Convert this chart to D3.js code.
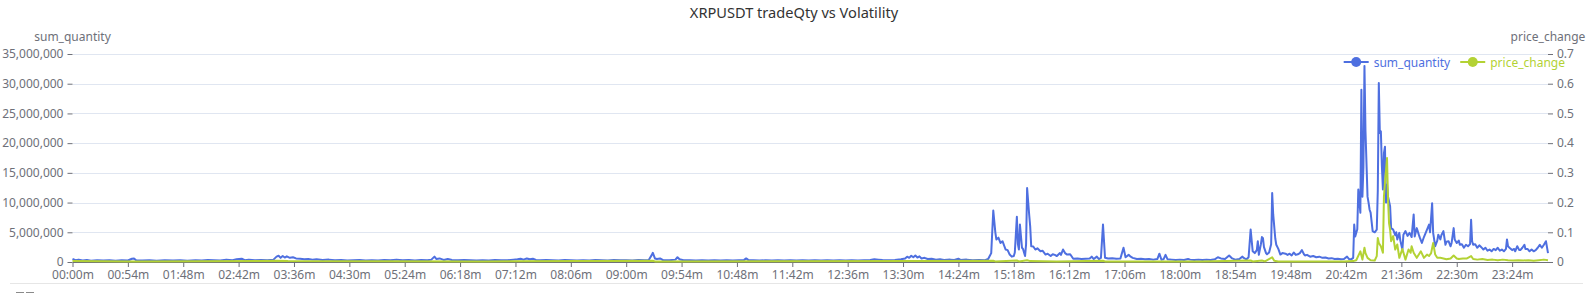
<!DOCTYPE html>
<html>
<head>
<meta charset="utf-8">
<script src="https://cdn.jsdelivr.net/npm/d3@7"></script>
<style>
	body { margin: 0; background: #fff; }
	svg { display: block; font-family: "Noto Sans", sans-serif; }
</style>
</head>
<body>
<div class="chart"></div>
<script>
// time labels on the x axis (minute of day)
const timeLabels = ["00:00m", "00:54m", "01:48m", "02:42m", "03:36m", "04:30m", "05:24m", "06:18m",
	"07:12m", "08:06m", "09:00m", "09:54m", "10:48m", "11:42m", "12:36m", "13:30m", "14:24m", "15:18m",
	"16:12m", "17:06m", "18:00m", "18:54m", "19:48m", "20:42m", "21:36m", "22:30m", "23:24m"];

const qtyTicks = [0, 5000000, 10000000, 15000000, 20000000, 25000000, 30000000, 35000000];
const changeTicks = [0, 0.1, 0.2, 0.3, 0.4, 0.5, 0.6, 0.7];

// sum_quantity, [minute, millions]
const sumQuantity = [
	[0, 0.5], [3, 0.3], [6, 0.4], [10, 0.25], [14, 0.35], [18, 0.2], [24, 0.3], [30, 0.25], [36, 0.3], [42, 0.2],
	[48, 0.3], [54, 0.25], [58, 0.55], [60, 0.6], [62, 0.3], [68, 0.25], [75, 0.3], [82, 0.2], [90, 0.3], [98, 0.25],
	[105, 0.3], [112, 0.2], [120, 0.3], [126, 0.25], [132, 0.35], [138, 0.3], [144, 0.25], [150, 0.4], [156, 0.3],
	[160, 0.45], [165, 0.55], [168, 0.3], [172, 0.4], [178, 0.3], [184, 0.35], [190, 0.3], [196, 0.4], [199, 0.9],
	[201, 1.05], [203, 0.7], [205, 1.0], [207, 0.75], [209, 0.95], [212, 0.7], [215, 0.8], [218, 0.6], [222, 0.55],
	[226, 0.45], [230, 0.5], [234, 0.4], [238, 0.45], [244, 0.35], [250, 0.4], [256, 0.3], [262, 0.35], [268, 0.25],
	[274, 0.3], [280, 0.35], [286, 0.25], [292, 0.3], [298, 0.25], [304, 0.35], [310, 0.3], [316, 0.4], [322, 0.3],
	[328, 0.35], [334, 0.25], [340, 0.35], [346, 0.3], [350, 0.4], [353, 0.9], [355, 0.5], [358, 0.6], [362, 0.35],
	[366, 0.5], [370, 0.35], [376, 0.3], [382, 0.35], [388, 0.3], [394, 0.25], [400, 0.3], [406, 0.25], [412, 0.35],
	[418, 0.3], [424, 0.3], [430, 0.4], [434, 0.45], [437, 0.55], [440, 0.4], [443, 0.6], [446, 0.45], [449, 0.55],
	[452, 0.35], [456, 0.3], [462, 0.35], [468, 0.3], [474, 0.25], [480, 0.35], [486, 0.3], [492, 0.25], [498, 0.3],
	[504, 0.25], [510, 0.35], [516, 0.3], [522, 0.25], [528, 0.35], [534, 0.3], [540, 0.3], [546, 0.25], [552, 0.35],
	[558, 0.3], [562, 0.35], [565, 1.2], [566, 1.55], [568, 0.6], [570, 0.5], [573, 0.6], [576, 0.3], [582, 0.3],
	[588, 0.4], [590, 0.8], [592, 0.45], [596, 0.3], [602, 0.3], [608, 0.25], [614, 0.3], [620, 0.25], [626, 0.3],
	[632, 0.25], [638, 0.3], [644, 0.25], [650, 0.3], [655, 0.35], [657, 0.6], [659, 0.35], [664, 0.3], [670, 0.25],
	[676, 0.3], [682, 0.25], [688, 0.3], [694, 0.25], [700, 0.3], [706, 0.25], [712, 0.3], [718, 0.25], [724, 0.3],
	[730, 0.25], [736, 0.3], [742, 0.25], [748, 0.3], [754, 0.25], [760, 0.3], [766, 0.25], [772, 0.3], [778, 0.35],
	[782, 0.45], [786, 0.4], [790, 0.35], [796, 0.3], [802, 0.35], [808, 0.45], [812, 0.6], [814, 0.9], [816, 0.7],
	[818, 1.05], [820, 0.8], [822, 1.1], [824, 0.75], [826, 0.95], [828, 0.6], [831, 0.7], [834, 0.5], [838, 0.55],
	[842, 0.4], [846, 0.45], [850, 0.35], [856, 0.4], [860, 0.35], [864, 0.55], [866, 0.35], [872, 0.4], [878, 0.3],
	[884, 0.35], [890, 0.3], [893, 0.5],
	[896, 1.5], [898, 8.65], [900, 5.0], [901, 3.8], [903, 4.1], [905, 3.2], [907, 3.5], [910, 2.1], [912, 2.0],
	[914, 1.25], [916, 0.9], [918, 1.0], [919, 1.6], [921, 7.6], [922, 3.0], [923, 2.1], [924, 6.3], [926, 2.4],
	[927, 2.2], [929, 1.0], [930, 3.0], [931, 12.45], [933, 8.0], [934, 6.0], [935, 2.65], [937, 2.6], [939, 2.1],
	[941, 2.3], [944, 1.8], [946, 1.9], [949, 1.25], [951, 1.4], [954, 1.0], [956, 1.3], [958, 1.2], [960, 1.0],
	[963, 1.5], [964, 1.2], [966, 2.1], [968, 1.5], [970, 1.25], [973, 1.3], [976, 0.55], [980, 0.6], [984, 0.5],
	[988, 0.55], [992, 0.6], [994, 0.9], [996, 0.5], [999, 0.9], [1001, 0.5], [1003, 0.7], [1005, 6.3], [1007, 0.7],
	[1010, 0.6], [1014, 0.65], [1018, 0.55], [1022, 0.6], [1025, 2.4], [1027, 0.8], [1030, 1.2], [1032, 0.9],
	[1034, 0.7], [1038, 0.5], [1042, 0.55], [1046, 0.45], [1050, 0.5], [1054, 0.4], [1058, 0.5], [1060, 1.4],
	[1062, 0.4], [1064, 0.45], [1066, 1.2], [1068, 0.45], [1072, 0.4], [1076, 0.35], [1080, 0.4], [1084, 0.35],
	[1088, 0.5], [1090, 0.4], [1094, 0.35], [1098, 0.4], [1102, 0.35], [1106, 0.4], [1110, 0.35], [1114, 0.45],
	[1117, 0.8], [1120, 0.6], [1124, 0.5], [1128, 1.1], [1131, 0.6], [1134, 0.4], [1138, 0.5], [1141, 0.9],
	[1143, 0.6], [1145, 0.45], [1147, 0.8], [1149, 5.45], [1151, 1.8], [1153, 1.5], [1155, 2.0], [1156, 3.5],
	[1157, 1.2], [1159, 3.0], [1160, 4.2], [1161, 4.0], [1162, 2.5], [1164, 1.5], [1165, 1.3], [1167, 1.6],
	[1169, 3.0], [1170, 11.6], [1171, 8.0], [1173, 4.0], [1174, 2.9], [1176, 2.2], [1178, 1.25], [1180, 1.5],
	[1183, 1.4], [1185, 1.2], [1187, 1.4], [1189, 1.1], [1191, 1.6], [1193, 1.2], [1195, 1.3], [1197, 1.5],
	[1199, 2.0], [1201, 1.3], [1202, 1.1], [1204, 1.2], [1207, 0.9], [1210, 1.0], [1213, 0.8], [1216, 0.9],
	[1219, 0.7], [1222, 0.75], [1225, 0.6], [1228, 0.65], [1231, 0.5], [1234, 0.55], [1237, 0.45], [1240, 0.5],
	[1243, 0.9], [1245, 0.5], [1247, 0.45], [1249, 0.7],
	[1250, 6.3], [1251, 4.3], [1253, 5.5], [1254, 12.2], [1256, 8.3], [1257, 29.0], [1258, 11.0], [1259, 16.0],
	[1260, 33.0], [1261, 22.0], [1263, 11.0], [1264, 10.0], [1265, 8.8], [1266, 8.3], [1268, 5.2], [1270, 5.0],
	[1272, 5.45], [1273, 12.0], [1274, 30.1], [1275, 21.7], [1276, 22.0], [1277, 16.1], [1278, 12.2], [1279, 18.3],
	[1280, 19.4], [1281, 10.0], [1282, 13.0], [1283, 11.0], [1285, 9.4], [1286, 5.7], [1288, 5.45], [1290, 4.5],
	[1291, 5.0], [1292, 3.8], [1294, 4.9], [1295, 3.6], [1297, 2.1], [1298, 4.6], [1300, 5.2], [1302, 4.4],
	[1304, 4.9], [1306, 4.2], [1308, 8.0], [1309, 4.3], [1311, 5.7], [1313, 4.6], [1314, 4.1], [1316, 3.2],
	[1318, 4.2], [1321, 5.45], [1323, 6.3], [1324, 5.0], [1326, 9.9], [1327, 4.9], [1329, 2.65], [1331, 3.6],
	[1332, 4.6], [1334, 3.8], [1335, 4.5], [1337, 5.2], [1339, 2.9], [1340, 3.4], [1342, 3.5], [1344, 2.65],
	[1345, 3.2], [1347, 5.7], [1348, 3.8], [1350, 3.2], [1352, 3.6], [1353, 2.9], [1355, 3.0], [1357, 2.4],
	[1359, 2.9], [1361, 2.65], [1363, 3.0], [1364, 7.1], [1365, 3.5], [1366, 2.9], [1368, 3.0], [1370, 2.4],
	[1372, 2.8], [1373, 2.65], [1375, 2.3], [1376, 2.1], [1378, 2.4], [1380, 1.9], [1382, 2.1], [1384, 1.8],
	[1386, 2.2], [1388, 2.0], [1390, 2.4], [1392, 1.9], [1394, 2.1], [1396, 1.8], [1398, 2.2], [1399, 3.8],
	[1400, 2.65], [1402, 2.3], [1404, 2.0], [1406, 2.2], [1407, 1.8], [1409, 2.65], [1411, 2.0], [1412, 2.0],
	[1414, 2.4], [1416, 2.9], [1417, 2.2], [1419, 2.2], [1421, 1.8], [1423, 2.1], [1425, 1.8], [1427, 2.0],
	[1429, 2.4], [1431, 2.9], [1433, 2.4], [1435, 2.9], [1437, 3.5], [1439, 1.5]
];

// price_change, [minute, value]
const priceChange = [
	[0, 0.003], [60, 0.002], [200, 0.004], [210, 0.003], [400, 0.002], [566, 0.004], [568, 0.002], [820, 0.003],
	[898, 0.004], [900, 0.002], [921, 0.005], [923, 0.002], [931, 0.006], [934, 0.003], [960, 0.002], [1005, 0.004],
	[1007, 0.002], [1100, 0.002], [1149, 0.005], [1151, 0.002], [1160, 0.005], [1163, 0.002], [1170, 0.016],
	[1172, 0.004], [1176, 0.002], [1240, 0.002], [1249, 0.003], [1252, 0.006], [1256, 0.036], [1258, 0.008],
	[1260, 0.048], [1261, 0.03], [1263, 0.014], [1266, 0.006], [1270, 0.005], [1272, 0.02], [1273, 0.081],
	[1274, 0.064], [1276, 0.053], [1278, 0.031], [1279, 0.22], [1280, 0.266], [1282, 0.35], [1283, 0.21],
	[1284, 0.13], [1285, 0.109], [1286, 0.07], [1288, 0.087], [1290, 0.042], [1292, 0.059], [1294, 0.014],
	[1297, 0.044], [1300, 0.008], [1303, 0.042], [1305, 0.031], [1306, 0.053], [1308, 0.031], [1311, 0.014],
	[1315, 0.036], [1318, 0.014], [1321, 0.025], [1323, 0.02], [1325, 0.03], [1327, 0.064], [1329, 0.025],
	[1331, 0.014], [1334, 0.014], [1337, 0.012], [1340, 0.009], [1344, 0.012], [1347, 0.022], [1350, 0.012],
	[1352, 0.01], [1356, 0.012], [1360, 0.012], [1364, 0.02], [1366, 0.01], [1370, 0.008], [1375, 0.01],
	[1380, 0.007], [1385, 0.008], [1390, 0.006], [1395, 0.008], [1400, 0.006], [1405, 0.005], [1410, 0.006],
	[1415, 0.005], [1420, 0.006], [1425, 0.004], [1430, 0.006], [1435, 0.008], [1439, 0.006]
];

const qtyColor = "#4e6fe0";
const changeColor = "#b3d234";
const axisColor = "#6e7079";
const gridColor = "#e0e6f1";

const draw = () => {
	const fullWidth = 1593,
		fullHeight = 293;
	const margin = { top: 54, right: 45, bottom: 31, left: 72.5 },
		width = fullWidth - margin.left - margin.right,
		height = fullHeight - margin.top - margin.bottom;

	const svg = d3
		.select(".chart")
		.append("svg")
		.attr("width", fullWidth)
		.attr("height", fullHeight);

	// title
	svg.append("text")
		.attr("x", 794)
		.attr("y", 18)
		.attr("text-anchor", "middle")
		.attr("fill", "#333")
		.style("font-size", "14.6px")
		.text("XRPUSDT tradeQty vs Volatility");

	const g = svg.append("g").attr("transform", "translate(" + margin.left + "," + margin.top + ")");

	const x = d3.scaleLinear().domain([0, 1439]).range([0, width]);
	const yQty = d3.scaleLinear().domain([0, 35000000]).range([height, 0]);
	const yChange = d3.scaleLinear().domain([0, 0.7]).range([height, 0]);

	// grid lines
	g.append("g")
		.selectAll("line")
		.data(qtyTicks.slice(1))
		.join("line")
		.attr("x1", 0)
		.attr("x2", width)
		.attr("y1", (d) => Math.round(yQty(d)) + 0.5)
		.attr("y2", (d) => Math.round(yQty(d)) + 0.5)
		.attr("stroke", gridColor);

	// left axis
	g.append("g")
		.call(d3.axisLeft(yQty).tickValues(qtyTicks).tickFormat(d3.format(",")).tickSize(5).tickPadding(4))
		.call((a) => a.select(".domain").remove())
		.call((a) => a.selectAll("line").attr("stroke", axisColor))
		.call((a) => a.selectAll("text").attr("fill", axisColor).style("font-size", "12px").style("font-family", "Noto Sans"));

	// right axis
	g.append("g")
		.attr("transform", "translate(" + width + ",0)")
		.call(d3.axisRight(yChange).tickValues(changeTicks).tickFormat(d3.format("~g")).tickSize(5).tickPadding(4))
		.call((a) => a.select(".domain").remove())
		.call((a) => a.selectAll("line").attr("stroke", axisColor))
		.call((a) => a.selectAll("text").attr("fill", axisColor).style("font-size", "12px").style("font-family", "Noto Sans"));

	// axis names
	g.append("text")
		.attr("x", 0)
		.attr("y", -13)
		.attr("text-anchor", "middle")
		.attr("fill", axisColor)
		.style("font-size", "12px")
		.text("sum_quantity");
	g.append("text")
		.attr("x", width)
		.attr("y", -13)
		.attr("text-anchor", "middle")
		.attr("fill", axisColor)
		.style("font-size", "12px")
		.text("price_change");

	// bottom axis
	const toMinute = (s) => +s.slice(0, 2) * 60 + +s.slice(3, 5);
	g.append("g")
		.attr("transform", "translate(0," + height + ")")
		.call(d3.axisBottom(x).tickValues(timeLabels.map(toMinute)).tickFormat((d, i) => timeLabels[i]).tickSize(5).tickSizeOuter(0).tickPadding(3))
		.call((a) => a.select(".domain").attr("stroke", axisColor))
		.call((a) => a.selectAll("line").attr("stroke", axisColor))
		.call((a) => a.selectAll("text").attr("fill", axisColor).style("font-size", "12px").style("font-family", "Noto Sans"));

	// series
	const qtyLine = d3.line().x((d) => x(d[0])).y((d) => yQty(d[1] * 1000000));
	const changeLine = d3.line().x((d) => x(d[0])).y((d) => yChange(d[1]));

	g.append("path")
		.datum(sumQuantity)
		.attr("fill", "none")
		.attr("stroke", qtyColor)
		.attr("stroke-width", 2)
		.attr("stroke-linejoin", "round")
		.attr("d", qtyLine);

	g.append("path")
		.datum(priceChange)
		.attr("fill", "none")
		.attr("stroke", changeColor)
		.attr("stroke-width", 2)
		.attr("stroke-linejoin", "round")
		.attr("d", changeLine);

	// legend, right aligned
	const legendItems = [
		{ name: "sum_quantity", color: qtyColor },
		{ name: "price_change", color: changeColor }
	];
	const legend = svg.append("g").attr("transform", "translate(0,62)");
	let right = 1565;
	legendItems
		.slice()
		.reverse()
		.forEach((item) => {
			const t = legend
				.append("text")
				.attr("y", 4.5)
				.attr("fill", item.color)
				.style("font-size", "12px")
				.text(item.name);
			const w = t.node().getComputedTextLength();
			const tx = right - w;
			t.attr("x", tx);
			const ix = tx - 5 - 25;
			legend.append("line")
				.attr("x1", ix)
				.attr("x2", ix + 25)
				.attr("stroke", item.color)
				.attr("stroke-width", 2);
			legend.append("circle")
				.attr("cx", ix + 12.5)
				.attr("r", 5)
				.attr("fill", item.color);
			right = ix - 10;
		});

	// slider strip at bottom
	svg.append("line")
		.attr("x1", 10)
		.attr("x2", 1583)
		.attr("y1", 283.5)
		.attr("y2", 283.5)
		.attr("stroke", "#e6e6e6");
	svg.append("g")
		.selectAll("line")
		.data([16, 26])
		.join("line")
		.attr("x1", (d) => d)
		.attr("x2", (d) => d + 8)
		.attr("y1", 292.5)
		.attr("y2", 292.5)
		.attr("stroke", "#8a8a8a");
};

draw();
</script>
</body>
</html>
